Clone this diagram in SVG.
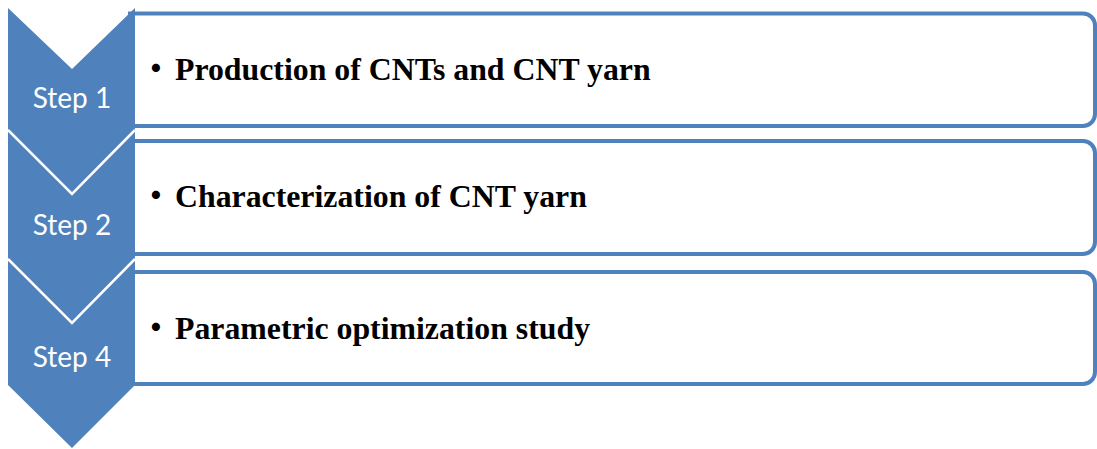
<svg xmlns="http://www.w3.org/2000/svg" width="1097" height="449" viewBox="0 0 1097 449">
  <style>
    .box { fill: #ffffff; stroke: #4f81bd; stroke-width: 4; }
    .chev { fill: #4f81bd; stroke: none; }
    .sep { fill: none; stroke: #ffffff; stroke-width: 2.5; }
    .step { font-family: Lato, "Open Sans", "Liberation Sans", sans-serif; font-size: 28px; fill: #ffffff; text-anchor: middle; }
    .item { font-family: "Liberation Serif", "Noto Sans CJK JP", serif; font-size: 31.8px; font-weight: bold; fill: #000000; }
    .bul { font-family: "Noto Sans CJK JP", sans-serif; font-weight: bold; }
  </style>
  <rect width="1097" height="449" fill="#ffffff"/>
  <g id="box1">
    <path class="box" d="M130,13.5 H1083 A12,12 0 0 1 1095,25.5 V114 A12,12 0 0 1 1083,126 H130 Z"/>
    <text class="item" x="175" y="80"><tspan class="bul" x="140">・</tspan><tspan x="175">Production of CNTs and CNT yarn</tspan></text>
  </g>
  <g id="box2">
    <path class="box" d="M130,141 H1083 A12,12 0 0 1 1095,153 V242 A12,12 0 0 1 1083,254 H130 Z"/>
    <text class="item" x="175" y="207"><tspan class="bul" x="140">・</tspan><tspan x="175">Characterization of CNT yarn</tspan></text>
  </g>
  <g id="box3">
    <path class="box" d="M130,272 H1083 A12,12 0 0 1 1095,284 V372 A12,12 0 0 1 1083,384 H130 Z"/>
    <text class="item" x="175" y="339"><tspan class="bul" x="140">・</tspan><tspan x="175">Parametric optimization study</tspan></text>
  </g>
  <g id="step1">
    <polygon class="chev" points="8,8 72,69 135,8 135,130 72,194 8,130"/>
    <text class="step" x="72" y="108">Step 1</text>
  </g>
  <g id="step2">
    <polygon class="chev" points="8,130 72,194 135,130 135,259 72,323 8,259"/>
    <text class="step" x="72" y="235">Step 2</text>
  </g>
  <g id="step4">
    <polygon class="chev" points="8,259 72,323 135,259 135,385 72,448 8,385"/>
    <text class="step" x="72" y="367">Step 4</text>
  </g>
  <g id="connectors">
    <polyline class="sep" points="8,130 72,194 135,130"/>
    <polyline class="sep" points="8,259 72,323 135,259"/>
  </g>
</svg>
